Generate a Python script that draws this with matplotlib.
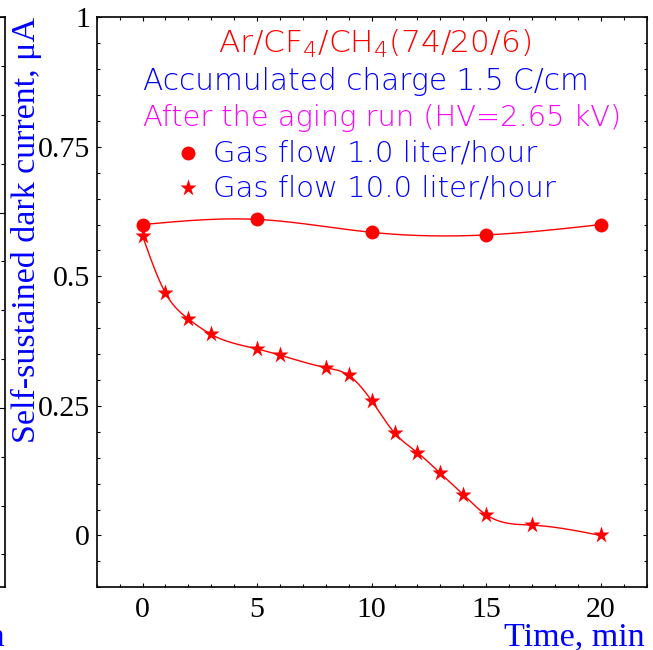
import numpy as np
import matplotlib
matplotlib.use("Agg")
import matplotlib.pyplot as plt
from matplotlib.ticker import MultipleLocator

# data
t_slow = [0, 5, 10, 15, 20]
i_slow = [0.600, 0.610, 0.585, 0.580, 0.600]

t_fast = [0, 1, 2, 3, 5, 6, 8, 9, 10, 11, 12, 13, 14, 15, 17, 20]
i_fast = [0.578, 0.468, 0.418, 0.388, 0.360, 0.348, 0.324, 0.309,
          0.260, 0.198, 0.160, 0.120, 0.079, 0.040, 0.020, 0.000]

title_lines = ["Ar/CF$_4$/CH$_4$(74/20/6)",
               "Accumulated charge 1.5 C/cm",
               "After the aging run (HV=2.65 kV)"]
legend_labels = ["Gas flow 1.0 liter/hour", "Gas flow 10.0 liter/hour"]

RED, BLUE, MAGENTA = "#ff0000", "#0000ff", "#ff00ff"
W, H = 653, 650


def smooth(x, y, n=400):
    # natural cubic spline, only used to draw the connecting curve
    x = np.asarray(x, float)
    y = np.asarray(y, float)
    k = len(x)
    h = np.diff(x)
    A = np.zeros((k, k))
    b = np.zeros(k)
    A[0, 0] = A[-1, -1] = 1
    for i in range(1, k - 1):
        A[i, i - 1] = h[i - 1]
        A[i, i] = 2 * (h[i - 1] + h[i])
        A[i, i + 1] = h[i]
        b[i] = 6 * ((y[i + 1] - y[i]) / h[i] - (y[i] - y[i - 1]) / h[i - 1])
    m = np.linalg.solve(A, b)
    xs = np.linspace(x[0], x[-1], n)
    j = np.clip(np.searchsorted(x, xs) - 1, 0, k - 2)
    dx = xs - x[j]
    hj = h[j]
    a = (m[j + 1] - m[j]) / (6 * hj)
    c = (y[j + 1] - y[j]) / hj - hj * (2 * m[j] + m[j + 1]) / 6
    ys = y[j] + c * dx + m[j] / 2 * dx ** 2 + a * dx ** 3
    return xs, ys


plt.rcParams["font.family"] = "Liberation Serif"
plt.rcParams["mathtext.fontset"] = "custom"
plt.rcParams["mathtext.rm"] = "DejaVu Sans:light"
plt.rcParams["mathtext.it"] = "DejaVu Sans:light"
plt.rcParams["mathtext.bf"] = "DejaVu Sans:bold"

fig = plt.figure(figsize=(W / 100, H / 100), dpi=100)
L, R, T, B = 96.7 / W, 646.5 / W, 1 - 17.3 / H, 1 - 587.3 / H
ax = fig.add_axes([L, B, R - L, T - B])

xs, ys = smooth(t_slow, i_slow)
ax.plot(xs, ys, color=RED, lw=1.0)
ax.plot(t_slow, i_slow, "o", color=RED, ms=10, mec="none")
xs, ys = smooth(t_fast, i_fast)
ax.plot(xs, ys, color=RED, lw=1.0)
ax.plot(t_fast, i_fast, "*", color=RED, ms=12.5, mec="none")

ax.set_xlim(-2, 22)
ax.set_ylim(-0.1, 1.0)
ax.xaxis.set_major_locator(MultipleLocator(5))
ax.xaxis.set_minor_locator(MultipleLocator(1))
ax.yaxis.set_major_locator(MultipleLocator(0.25))
ax.yaxis.set_minor_locator(MultipleLocator(0.05))
ax.set_yticks([0, 0.25, 0.5, 0.75, 1.0], ["0", "0.25", "0.5", "0.75", "1"])
ax.tick_params(which="both", direction="in", top=True, right=True,
               labelsize=21.5, width=0.8, colors="black")
ax.tick_params(which="major", length=3.2)
ax.tick_params(which="minor", length=1.9)
ax.tick_params(axis="y", pad=5)
ax.tick_params(axis="x", pad=7)
for s in ax.spines.values():
    s.set_linewidth(1.2)

# text block in the upper part
sans = "DejaVu Sans"
kw = dict(transform=fig.transFigure, va="baseline", family=sans,
          fontweight="light")
ax.text(375 / W, 1 - 53 / H, title_lines[0], ha="center", color=RED,
        fontsize=22.5, **kw)
ax.text(143 / W, 1 - 90 / H, title_lines[1], ha="left", color=BLUE,
        fontsize=21.3, **kw)
ax.text(143 / W, 1 - 126 / H, title_lines[2], ha="left", color=MAGENTA,
        fontsize=20.8, **kw)
for k, (mk, ms, lab) in enumerate(zip(["o", "*"], [10, 12.5], legend_labels)):
    yb = 162 + 35 * k
    fig.lines.append(plt.Line2D([188 / W], [1 - (yb - 9) / H], marker=mk,
                                ms=ms, color=RED, mec="none",
                                transform=fig.transFigure))
    ax.text(213 / W, 1 - yb / H, lab, ha="left", color=BLUE, fontsize=21, **kw)

fig.text(645 / W, 1 - 645 / H, "Time, min", ha="right", va="baseline",
         color=BLUE, fontsize=24.5)
fig.text(26 / W, 1 - 17 / H, "Self-sustained dark current, \u03bcA",
         rotation=90, ha="center", va="top", color=BLUE, fontsize=24.5)

# edge of the neighbouring panel, cut off at the left border
nb = fig.add_axes([-0.6, B, 0.6 + 4.5 / W, T - B])
nb.set_ylim(0.082, 3.0)
nb.set_xlim(0, 1)
nb.yaxis.set_major_locator(MultipleLocator(1))
nb.yaxis.set_minor_locator(MultipleLocator(0.25))
nb.tick_params(which="both", direction="in", left=False, right=True,
               labelleft=False, bottom=False, labelbottom=False, width=0.8)
nb.tick_params(which="major", length=5)
nb.tick_params(which="minor", length=3)
for s in nb.spines.values():
    s.set_linewidth(1.2)
fig.text(5 / W, 1 - 645 / H, "Time, min", ha="right", va="baseline",
         color=BLUE, fontsize=24.5)

fig.savefig("out.png", dpi=100)
